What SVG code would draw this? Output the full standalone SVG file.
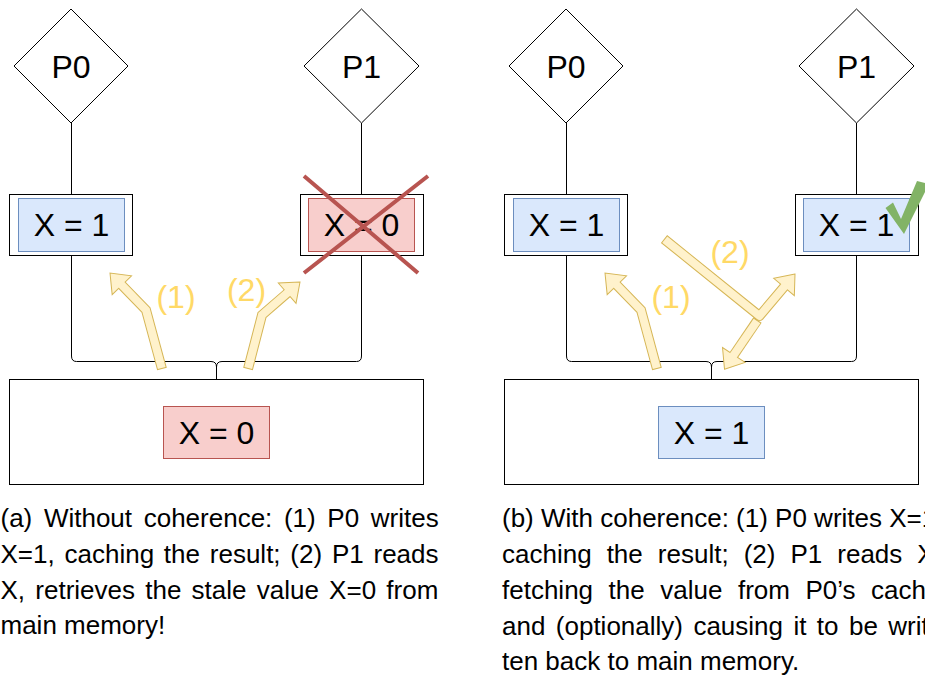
<svg xmlns="http://www.w3.org/2000/svg" xmlns:xlink="http://www.w3.org/1999/xlink" width="925" height="679" viewBox="0 0 925 679">
<style>
text{font-family:"Liberation Sans",Arial,Helvetica,sans-serif;fill:#000}
.big{font-size:32px;text-anchor:middle}
.lab{font-size:32px;text-anchor:middle;fill:#ffd966}
.cap{font-size:26px}
.proc{fill:#fff;stroke:#000;stroke-width:1}
.box{fill:#fff;stroke:#000;stroke-width:1}
.blue{fill:#dae8fc;stroke:#6c8ebf;stroke-width:1}
.red{fill:#f8cecc;stroke:#b85450;stroke-width:1}
.wire{fill:none;stroke:#000;stroke-width:1}
.ao{fill:none;stroke:#d6b656;stroke-width:10;stroke-linejoin:miter}
.ai{fill:none;stroke:#fff2cc;stroke-width:8;stroke-linejoin:miter}
.ah{fill:#fff2cc;stroke:#d6b656;stroke-width:1;stroke-linejoin:miter}
.cross{stroke:#b85450;stroke-width:4;fill:none}
</style>
<defs>
<path id="head" d="M0,0 L-17,-13.5 L-17,13.5 Z"/>
</defs>

<!-- connectors -->
<g id="connectors">
<path class="wire" d="M71.5,123 V194"/>
<path class="wire" d="M361.5,123 V194"/>
<path class="wire" d="M71.5,256 V356 Q71.5,361.5 76.5,361.5 H211 Q216.5,361.5 216.5,367 V379"/>
<path class="wire" d="M361.5,256 V356 Q361.5,361.5 356.5,361.5 H222 Q216.5,361.5 216.5,367 V379"/>
<path class="wire" d="M566.5,123 V194"/>
<path class="wire" d="M856.5,123 V194"/>
<path class="wire" d="M566.5,256 V356 Q566.5,361.5 571.5,361.5 H706 Q711.5,361.5 711.5,367 V379"/>
<path class="wire" d="M856.5,256 V356 Q856.5,361.5 851.5,361.5 H717 Q711.5,361.5 711.5,367 V379"/>
</g>

<!-- left panel -->
<g id="a-P0"><path class="proc" d="M71,9 L128,66 L71,123 L14,66 Z"/><text class="big" x="71" y="78">P0</text></g>
<g id="a-P1"><path class="proc" d="M361.5,9 L419,66 L361.5,123 L304,66 Z"/><text class="big" x="361.5" y="78">P1</text></g>
<g id="a-cache0"><rect class="box" x="9.5" y="194.5" width="123" height="61"/><rect class="blue" x="18.5" y="198.5" width="106" height="53"/><text class="big" x="71.5" y="236">X = 1</text></g>
<g id="a-cache1"><rect class="box" x="300.5" y="194.5" width="123" height="61"/><rect class="red" x="308.5" y="198.5" width="106" height="53"/><text class="big" x="361.5" y="236">X = 0</text>
<path class="cross" d="M304,176 L418,273 M428,176 L304,273"/></g>
<g id="a-mem"><rect class="box" x="9.5" y="379.5" width="414" height="105"/><rect class="red" x="163.5" y="406.5" width="106" height="52"/><text class="big" x="216.5" y="444">X = 0</text></g>

<g id="a-arrow1">
<path class="ao" d="M162,369 L146,310 L121.9,285.2"/>
<use xlink:href="#head" class="ah" transform="translate(110,273) rotate(-134.2)"/>
<path class="ai" d="M161.7,368 L146,310 L120.5,283.8"/>
<text class="lab" x="176" y="308">(1)</text>
</g>
<g id="a-arrow2">
<path class="ao" d="M248,369 L262,315 L287.2,293.2"/>
<use xlink:href="#head" class="ah" transform="translate(300,282) rotate(-41)"/>
<path class="ai" d="M248.25,368 L262,315 L288.7,291.8"/>
<text class="lab" x="246.5" y="301">(2)</text>
</g>

<!-- right panel -->
<g id="b-P0"><path class="proc" d="M566,9 L623,66 L566,123 L509,66 Z"/><text class="big" x="566" y="78">P0</text></g>
<g id="b-P1"><path class="proc" d="M856.5,9 L914,66 L856.5,123 L799,66 Z"/><text class="big" x="856.5" y="78">P1</text></g>
<g id="b-cache0"><rect class="box" x="504.5" y="194.5" width="123" height="61"/><rect class="blue" x="513.5" y="198.5" width="106" height="53"/><text class="big" x="566.5" y="236">X = 1</text></g>
<g id="b-cache1"><rect class="box" x="795.5" y="194.5" width="123" height="61"/><rect class="blue" x="803.5" y="198.5" width="106" height="53"/><text class="big" x="856.5" y="236">X = 1</text>
<path fill="#82b366" d="M885.5,208 L893,202.5 L901,219 L917,181 L929,184 L904,234 Z"/></g>
<g id="b-mem"><rect class="box" x="504.5" y="379.5" width="414" height="105"/><rect class="blue" x="658.5" y="406.5" width="106" height="52"/><text class="big" x="711.5" y="444">X = 1</text></g>

<g id="b-arrow1">
<path class="ao" d="M657,369 L641,310 L616.9,285.2"/>
<use xlink:href="#head" class="ah" transform="translate(605,273) rotate(-134.2)"/>
<path class="ai" d="M656.7,368 L641,310 L615.5,283.8"/>
<text class="lab" x="671" y="308">(1)</text>
</g>
<g id="b-arrow2">
<path class="ao" d="M757.5,320 L733.8,355"/>
<use xlink:href="#head" class="ah" transform="translate(724.5,369.2) rotate(123.2)"/>
<path class="ai" d="M757,321 L732.7,356.6"/>
<path class="ao" style="stroke-linejoin:round" d="M664,239 L759.5,316 L784,287"/>
<use xlink:href="#head" class="ah" transform="translate(795,274) rotate(-49.8)"/>
<path class="ai" style="stroke-linejoin:round" d="M664.8,239.6 L759.5,316 L785.3,285.5"/>
<text class="lab" x="730" y="263">(2)</text>
</g>

<!-- captions -->
<g id="caption-a" class="cap">
<text x="0.5" y="527" word-spacing="4.4">(a) Without coherence: (1) P0 writes</text>
<text x="0.5" y="563" word-spacing="2.55">X=1, caching the result; (2) P1 reads</text>
<text x="0.5" y="598.5" word-spacing="3">X, retrieves the stale value X=0 from</text>
<text x="0.5" y="634">main memory!</text>
</g>
<g id="caption-b" class="cap">
<text x="502" y="527" word-spacing="0">(b) With coherence: (1) P0 writes X=1,</text>
<text x="502" y="563" word-spacing="7.8">caching the result; (2) P1 reads X,</text>
<text x="502" y="599" word-spacing="8.3">fetching the value from P0’s cache</text>
<text x="502" y="634.5" word-spacing="3.2">and (optionally) causing it to be writ-</text>
<text x="502" y="670">ten back to main memory.</text>
</g>
</svg>
